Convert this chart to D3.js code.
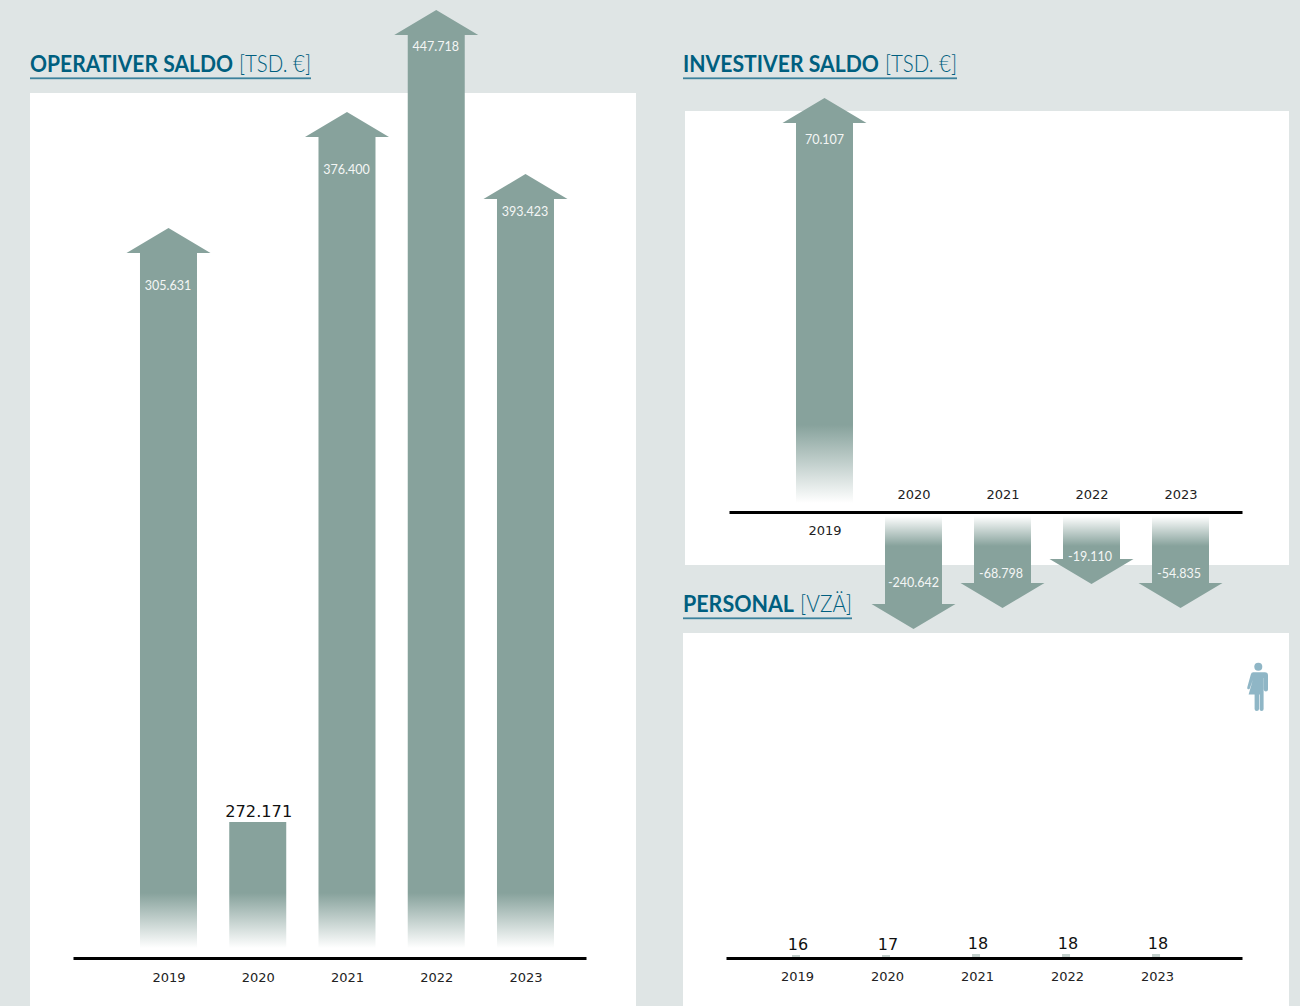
<!DOCTYPE html>
<html><head><meta charset="utf-8">
<script src="https://cdn.jsdelivr.net/npm/d3@7/dist/d3.min.js"></script>
<style>html,body{margin:0;padding:0;background:#dfe5e5;overflow:hidden}svg{display:block}</style>
</head><body><svg id="c" width="1300" height="1006"></svg>
<script>
const years = [2019, 2020, 2021, 2022, 2023];
// Printed values. The graphic's drawn lengths do not follow them, so lengths are read separately.
const operativLabels = ["305.631", "272.171", "376.400", "447.718", "393.423"];
const operativLengths = [720, 126, 836, 938, 774];
const operativArrow = [true, false, true, true, true];
const investivLabels = ["70.107", "-240.642", "-68.798", "-19.110", "-54.835"];
const investivLengths = [405, -113, -92, -68, -92];
const personalLabels = ["16", "17", "18", "18", "18"];
const personalLengths = [3, 3, 4, 4, 4];

const MAIN = "#87a29c", TITLE = "#005f7f", RULE = "#3c819c", ICON = "#8fb6c6";
const svg = d3.select("#c");
const defs = svg.append("defs");

function grad(id, y1, y2) {
  const g = defs.append("linearGradient").attr("id", id).attr("gradientUnits", "userSpaceOnUse")
    .attr("x1", 0).attr("x2", 0).attr("y1", y1).attr("y2", y2);
  g.append("stop").attr("offset", 0).attr("stop-color", MAIN).attr("stop-opacity", 0);
  g.append("stop").attr("offset", 1).attr("stop-color", MAIN).attr("stop-opacity", 1);
  return `url(#${id})`;
}
function panel(x, y, w, h) {
  svg.append("rect").attr("x", x).attr("y", y).attr("width", w).attr("height", h).attr("fill", "#fff");
}
panel(30, 93, 606, 913);
panel(685, 111, 604, 454);
panel(683, 633, 606, 373);

function heading(x, y, strong, strongW, light, lightW) {
  const common = s => s.attr("y", y).attr("fill", TITLE).attr("font-family", "Lato, sans-serif")
    .attr("font-size", 22.5).attr("lengthAdjust", "spacingAndGlyphs");
  common(svg.append("text")).attr("x", x).attr("font-weight", 700).attr("textLength", strongW).text(strong);
  common(svg.append("text")).attr("x", x + strongW + 6).attr("font-weight", 300).attr("textLength", lightW).text(light);
  svg.append("rect").attr("x", x).attr("y", y + 5.4).attr("width", strongW + 6 + lightW).attr("height", 1.8).attr("fill", RULE);
}
heading(30, 72, "OPERATIVER SALDO", 203, "[TSD. €]", 72);
heading(683, 72, "INVESTIVER SALDO", 196, "[TSD. €]", 72);
heading(683, 612, "PERSONAL", 111, "[VZÄ]", 52);

const arrowLine = d3.line();
function arrowPoints(cx, y0, yTip, hasHead) {
  const stem = 28.5, head = 42, hh = 25, dir = yTip < y0 ? 1 : -1;
  if (!hasHead) return [[cx - stem, y0], [cx - stem, yTip], [cx + stem, yTip], [cx + stem, y0]];
  const yn = yTip + dir * hh;
  return [[cx - stem, y0], [cx - stem, yn], [cx - head, yn], [cx, yTip], [cx + head, yn], [cx + stem, yn], [cx + stem, y0]];
}
function xAxis(xScale, y) {
  const a = svg.append("g").attr("transform", `translate(0,${y})`)
    .call(d3.axisBottom(xScale).tickValues(years).tickFormat(d3.format("d")).tickSize(0));
  a.select(".domain").attr("stroke", "#000").attr("stroke-width", 3);
  a.selectAll("text").attr("font-family", "'DejaVu Sans', sans-serif").attr("font-size", 13)
    .attr("fill", "#222").attr("dy", null);
  return a;
}
function inLabel(x, y, s) {
  svg.append("text").attr("x", x).attr("y", y).attr("text-anchor", "middle").attr("fill", "#f4f6f5")
    .attr("font-family", "Lato, sans-serif").attr("font-size", 12.5).text(s);
}

/* ---------- Operativer Saldo ---------- */
const xOp = d3.scaleLinear().domain([2017.93, 2023.678]).range([73, 586]);
const yOp = d3.scaleLinear().domain([0, 1000]).range([948, -52]);
const gOp = grad("gOp", 948, 893);
years.forEach((yr, i) => {
  svg.append("path").attr("fill", gOp)
    .attr("d", arrowLine(arrowPoints(xOp(yr), yOp(0), yOp(operativLengths[i]), operativArrow[i])) + "Z");
});
xAxis(xOp, 958).selectAll("text").attr("y", 23.5);
const opLabelDrop = [62, 0, 62, 41, 42];
years.forEach((yr, i) => {
  const tip = yOp(operativLengths[i]);
  if (operativArrow[i]) inLabel(xOp(yr) - 0.5, tip + opLabelDrop[i], operativLabels[i]);
  else svg.append("text").attr("x", xOp(yr) + 1).attr("y", tip - 5).attr("text-anchor", "middle")
    .attr("font-family", "'DejaVu Sans', sans-serif").attr("font-size", 16.2).attr("fill", "#111").text(operativLabels[i]);
});

/* ---------- Investiver Saldo ---------- */
const xInv = d3.scaleLinear().domain([2017.927, 2023.691]).range([729, 1242]);
const yInvUp = d3.scaleLinear().domain([0, 405]).range([503, 98]);
const yInvDown = d3.scaleLinear().domain([0, -113]).range([516, 629]);
const gUp = grad("gUp", 503, 425), gDown = grad("gDown", 516, 546);
years.forEach((yr, i) => {
  const v = investivLengths[i], up = v > 0;
  svg.append("path").attr("fill", up ? gUp : gDown)
    .attr("d", arrowLine(arrowPoints(xInv(yr), up ? yInvUp(0) : yInvDown(0), up ? yInvUp(v) : yInvDown(v), true)) + "Z");
});
xAxis(xInv, 512).selectAll("text").attr("y", d => d === 2019 ? 22.5 : -13.5);
const invOffset = [46, -42, -30, -23, -30];
years.forEach((yr, i) => {
  const v = investivLengths[i];
  const tip = v > 0 ? yInvUp(v) : yInvDown(v);
  inLabel(xInv(yr) - (i > 1 ? 1.5 : 0), tip + invOffset[i], investivLabels[i]);
});

/* ---------- Personal ---------- */
const xPer = d3.scaleLinear().domain([2018.211, 2023.944]).range([726, 1242]);
const yPer = d3.scaleLinear().domain([0, 4]).range([958, 954]);
years.forEach((yr, i) => {
  const x = xPer(yr) - 1;
  svg.append("rect").attr("x", x - 4).attr("width", 8).attr("y", yPer(personalLengths[i]))
    .attr("height", yPer(0) - yPer(personalLengths[i])).attr("fill", "#c3d0cc");
});
xAxis(xPer, 958).selectAll("text").attr("y", 22.5);
years.forEach((yr, i) => {
  svg.append("text").attr("x", xPer(yr) + 1).attr("y", yPer(personalLengths[i]) - 5).attr("text-anchor", "middle")
    .attr("font-family", "'DejaVu Sans', sans-serif").attr("font-size", 16).attr("fill", "#111").text(personalLabels[i]);
});

/* ---------- person pictogram ---------- */
const icon = svg.append("g").attr("transform", "translate(1258.3,663)").attr("fill", ICON);
icon.append("circle").attr("cx", 0).attr("cy", 3.8).attr("r", 4);
icon.append("path").attr("d", "M-5,9.3 H6.5 Q9.7,9.3 9.7,12.5 V26.5 Q9.7,28.5 7.5,28.5 Q5.7,28.5 5.5,26.5 V15 L5.3,15 V46 Q5.3,48 3.3,48 Q1.3,48 1.3,46 V31.5 H0.7 V46 Q0.7,48 -1.5,48 Q-3.7,48 -3.7,46 V31.5 H-9.7 L-5.5,17 L-8.5,25.5 Q-9.2,26.7 -10.3,26.2 Q-11.5,25.7 -11,24.3 L-7.5,11.5 Q-7,9.3 -5,9.3 Z");
</script></body></html>
